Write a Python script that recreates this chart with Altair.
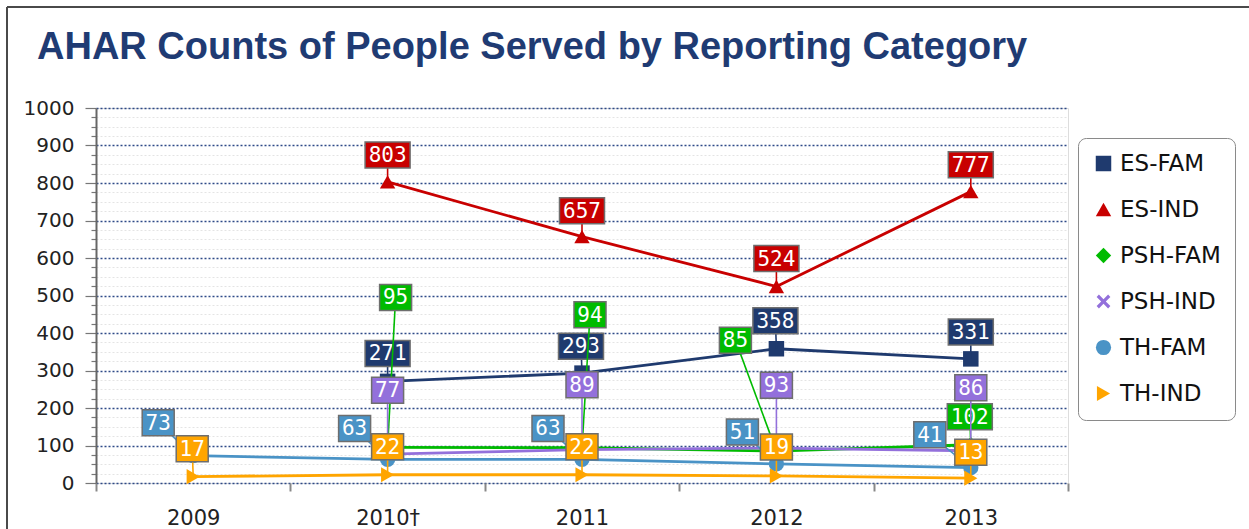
import json
import altair as alt
import pandas as pd

# ---------------- data ----------------
years = ["2009", "2010\u2020", "2011", "2012", "2013"]
series = ["ES-FAM", "ES-IND", "PSH-FAM", "PSH-IND", "TH-FAM", "TH-IND"]
es_fam = [None, 271, 293, 358, 331]
es_ind = [None, 803, 657, 524, 777]
psh_fam = [None, 95, 94, 85, 102]
psh_ind = [None, 77, 89, 93, 86]
th_fam = [73, 63, 63, 51, 41]
th_ind = [17, 22, 22, 19, 13]
values = [es_fam, es_ind, psh_fam, psh_ind, th_fam, th_ind]

# ---------------- style ----------------
colors = ["#1F3A6E", "#C80000", "#00BB00", "#9370DB", "#4A93C6", "#FFA500"]
x_shape = ("M-0.9,-0.6L-0.6,-0.9L0,-0.3L0.6,-0.9L0.9,-0.6L0.3,0L0.9,0.6"
           "L0.6,0.9L0,0.3L-0.6,0.9L-0.9,0.6L-0.3,0Z")
shapes = ["square", "triangle-up", "diamond", x_shape, "circle", "triangle-right"]
point_sizes = [240, 230, 130, 130, 160, 130]
# pixel offsets of each value label box from its point (label placement style)
label_dx = [[0, 0, -1, -1, 0], [0, 0, 0, 0, 0], [0, 8, 8, -41, -1],
            [0, 0, 0, 0, 0], [-35, -33, -34, -34, -41], [-1, 0, 0, 0, 0]]
label_dy = [[0, -28, -27, -28, -27], [0, -27, -26, -28, -27], [0, -150, -133, -111, -28],
            [0, -64, -65, -63, -63], [-33, -31, -31, -32, -33], [-28, -28, -28, -29, -26]]

W, H = 972, 375
PXX = W / len(years)
PXY = H / 1000.0

rows = []
for si, s in enumerate(series):
    for xi in range(len(years)):
        v = values[si][xi]
        if v is None:
            continue
        rows.append(dict(series=s, xi=xi, v=v, dx=label_dx[si][xi], dy=label_dy[si][xi]))
df = pd.DataFrame(rows)
df["lx"] = df.xi + df.dx / PXX
df["ly"] = df.v - df.dy / PXY
df["txt"] = df.v.astype(int).astype(str)
hw = (13 * df.txt.str.len() + 6) / 2 / PXX
df["bx1"] = df.lx - hw
df["bx2"] = df.lx + hw
hh = 13 / PXY
df["by1"] = df.ly - hh
df["by2"] = df.ly + hh

xs = alt.Scale(domain=[-0.5, len(years) - 0.5], nice=False, zero=False)
ys = alt.Scale(domain=[0, 1000], nice=False)

xvals = [i * 0.5 - 0.5 for i in range(2 * len(years) + 1)]
X_AXIS = alt.Axis(
    values=xvals,
    labelExpr="datum.value % 1 === 0 ? " + json.dumps(years, ensure_ascii=False) + "[datum.value] : ''",
    tickColor={"condition": {"test": "datum.value % 1 === 0", "value": "transparent"}, "value": "#888888"},
    tickSize=8, tickWidth=2, domain=False, grid=False, title=None,
    labelFont="DejaVu Sans", labelFontSize=21, labelColor="#222222", labelPadding=16,
    labelOverlap=False, labelFlush=False,
)
yvals = list(range(0, 1001, 25))
Y_AXIS = alt.Axis(
    values=yvals, format="d",
    labelExpr="datum.value % 100 === 0 ? datum.label : ''",
    tickSize={"condition": {"test": "datum.value % 100 === 0", "value": 11}, "value": 5},
    gridColor={"condition": {"test": "datum.value % 100 === 0", "value": "#2E4A88"}, "value": "#E4E4E4"},
    gridWidth={"condition": {"test": "datum.value % 100 === 0", "value": 1.6}, "value": 1},
    gridDash=[2, 2], grid=True,
    domainColor="#666666", domainWidth=2, tickColor="#777777", tickWidth=1.2,
    labelFont="DejaVu Sans", labelFontSize=20, labelColor="#222222", labelPadding=11,
    labelOverlap=False, title=None,
)

color_scale = alt.Scale(domain=series, range=colors)
shape_scale = alt.Scale(domain=series, range=shapes)
LEGEND = alt.Legend(
    orient="none", legendX=982, legendY=30, title=None,
    fillColor="white", strokeColor="#8A8A8A", cornerRadius=8, padding=14,
    labelFont="DejaVu Sans", labelFontSize=23, labelColor="#111111",
    labelExpr="datum.label + '\u2003'",
    symbolSize=380, rowPadding=22, labelOffset=5, symbolStrokeWidth=0,
    symbolType="circle",
)

base = alt.Chart(df)

lines = base.mark_line(strokeWidth=2.8).encode(
    x=alt.X("xi:Q", scale=xs, axis=X_AXIS),
    y=alt.Y("v:Q", scale=ys, axis=Y_AXIS),
    color=alt.Color("series:N", scale=color_scale, legend=LEGEND),
    order=alt.Order("xi:Q"),
)

points = base.mark_point(filled=True, opacity=1).encode(
    x=alt.X("xi:Q", scale=xs, axis=X_AXIS),
    y=alt.Y("v:Q", scale=ys, axis=Y_AXIS),
    color=alt.Color("series:N", scale=color_scale, legend=LEGEND),
    shape=alt.Shape("series:N", scale=shape_scale, legend=LEGEND),
    size=alt.Size("series:N", scale=alt.Scale(domain=series, range=point_sizes), legend=None),
)

# outer frame of the picture (decoration along the top and left edges)
frame_top = alt.Chart(df).mark_rule(color="#4A4A4A", strokeWidth=2, clip=False).encode(
    x=alt.value(-89), x2=alt.value(1153), y=alt.value(-101)
)
frame_left = alt.Chart(df).mark_rule(color="#4A4A4A", strokeWidth=2, clip=False).encode(
    x=alt.value(-89), y=alt.value(-101), y2=alt.value(421)
)

layers = [frame_top, frame_left, lines, points]
for si, s in enumerate(series):
    sub = alt.Chart(df[df.series == s])
    leader = sub.mark_rule(color=colors[si], strokeWidth=1.6).encode(
        x=alt.X("lx:Q", scale=xs, axis=X_AXIS), x2="xi:Q",
        y=alt.Y("ly:Q", scale=ys, axis=Y_AXIS), y2="v:Q",
    )
    box = sub.mark_rect(fill=colors[si], stroke="#6E6E6E", strokeWidth=1.5).encode(
        x=alt.X("bx1:Q", scale=xs, axis=X_AXIS), x2="bx2:Q",
        y=alt.Y("by1:Q", scale=ys, axis=Y_AXIS), y2="by2:Q",
    )
    txt = sub.mark_text(color="white", font="DejaVu Sans Mono", fontSize=21,
                        align="center", baseline="middle", dy=1).encode(
        x=alt.X("lx:Q", scale=xs, axis=X_AXIS),
        y=alt.Y("ly:Q", scale=ys, axis=Y_AXIS),
        text="txt:N",
    )
    layers += [leader, box, txt]

chart = alt.layer(*layers).properties(
    width=W, height=H,
    title=alt.TitleParams(
        "AHAR Counts of People Served by Reporting Category",
        anchor="start", frame="group", dx=-59, offset=-61,
        font="Liberation Sans", fontSize=38, fontWeight="bold", color="#1F3B73",
    ),
    padding={"left": 96, "top": 108, "right": 181, "bottom": 46},
    autosize=alt.AutoSizeParams(type="none"),
).configure_view(
    stroke="#8A8A8A", strokeWidth=2, cornerRadius=10, fill="white",
).configure(background="white")

chart.save("out.html", embed_options={"renderer": "svg", "actions": False})
